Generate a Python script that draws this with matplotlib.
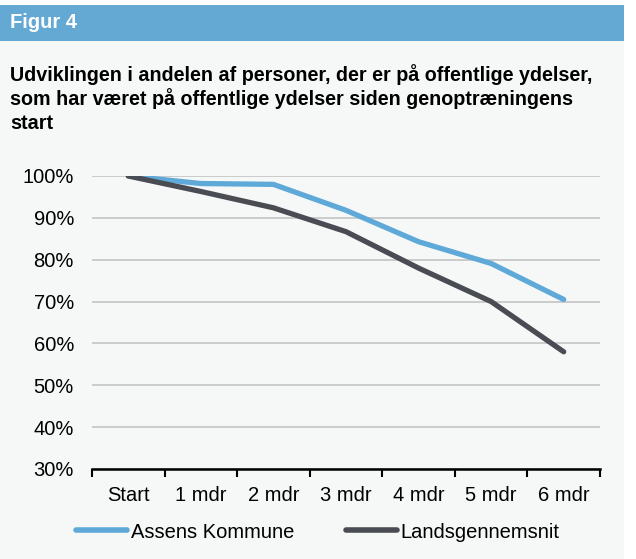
import matplotlib.pyplot as plt
from matplotlib.patches import Rectangle
from matplotlib.ticker import FixedLocator

plt.rcParams['font.family'] = ['Liberation Sans', 'DejaVu Sans']

categories = ['Start', '1 mdr', '2 mdr', '3 mdr', '4 mdr', '5 mdr', '6 mdr']
assens = [100, 98.2, 98.0, 91.8, 84.3, 79.1, 70.5]
lands = [100, 96.3, 92.4, 86.7, 78.0, 70.0, 58.0]
y_ticks = [30, 40, 50, 60, 70, 80, 90, 100]
title_lines = ['Udviklingen i andelen af personer, der er på offentlige ydelser,',
               'som har været på offentlige ydelser siden genoptræningens',
               'start']

W, H = 636, 559
fig = plt.figure(figsize=(W / 100, H / 100), dpi=100)
fig.patch.set_facecolor('white')

# panel background and header bar
fig.add_artist(Rectangle((0, 0), 624 / W, 1 - 5 / H, transform=fig.transFigure,
                         facecolor='#f6f8f8', edgecolor='none', zorder=0))
fig.add_artist(Rectangle((0, 1 - 41 / H), 624 / W, 36 / H, transform=fig.transFigure,
                         facecolor='#64a9d4', edgecolor='none', zorder=0))
fig.text(10 / W, 1 - 28 / H, 'Figur 4', color='white', fontsize=14.5,
         fontweight='bold', va='baseline', ha='left')
for i, line in enumerate(title_lines):
    fig.text(10 / W, 1 - (81 + 24 * i) / H, line, fontsize=14.2,
             fontweight='bold', va='baseline', ha='left')

ax = fig.add_axes([92 / W, 1 - 469 / H, (600 - 92) / W, (469 - 176) / H])
ax.set_facecolor('none')
x = list(range(len(categories)))
ax.plot(x, assens, color='#5ea9d8', lw=3.8, solid_capstyle='round', label='Assens Kommune', zorder=3)
ax.plot(x, lands, color='#4a4c53', lw=3.8, solid_capstyle='round', label='Landsgennemsnit', zorder=3)

ax.set_xlim(-0.5, len(categories) - 0.5)
ax.set_ylim(30, 100)
ax.set_yticks(y_ticks)
ax.set_yticklabels([f'{v}%' for v in y_ticks])
ax.yaxis.grid(True, color='#c4c4c4', lw=1.2)
ax.set_axisbelow(True)
ax.tick_params(axis='y', length=0, labelsize=14.5, pad=13)

ax.set_xticks(x)
ax.set_xticklabels(categories)
ax.xaxis.set_minor_locator(FixedLocator([i - 0.5 for i in range(len(categories) + 1)]))
ax.tick_params(axis='x', which='major', length=0, labelsize=14.5, pad=12)
ax.tick_params(axis='x', which='minor', length=6, width=1.5, direction='out', color='black')

for s in ['top', 'right', 'left']:
    ax.spines[s].set_visible(False)
ax.spines['bottom'].set_linewidth(1.8)

leg = fig.legend(loc='center', bbox_to_anchor=(0.5, 1 - 532 / H), ncol=2, frameon=False,
                 fontsize=14.5, handlelength=2.5, handletextpad=0.2, columnspacing=2.6)
for h in leg.get_lines():
    h.set_linewidth(4)

fig.savefig('out.png', dpi=100, facecolor=fig.get_facecolor())
